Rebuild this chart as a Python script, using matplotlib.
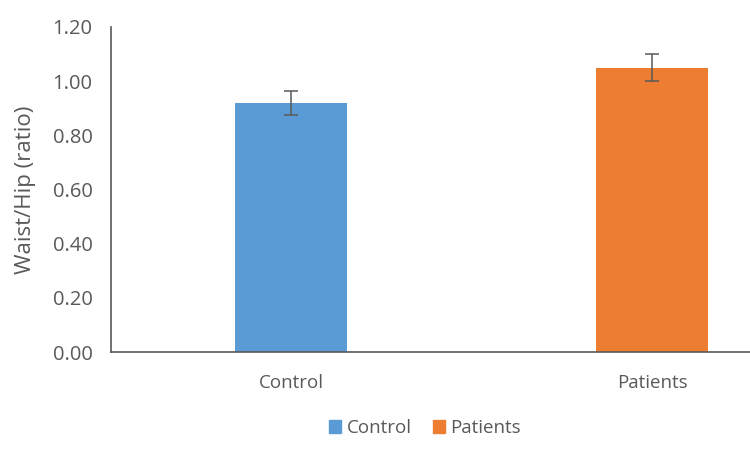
import matplotlib
matplotlib.use("Agg")
import matplotlib.pyplot as plt
from matplotlib.patches import Patch

# Données
groups = ["Control", "Patients"]
ratio = [0.92, 1.05]
ratio_err = [0.045, 0.05]
colors = ["#5B9BD5", "#ED7D31"]
yticks = [0.0, 0.2, 0.4, 0.6, 0.8, 1.0, 1.2]

plt.rcParams['font.family'] = ['Open Sans', 'DejaVu Sans']
grey = "#595959"

fig = plt.figure(figsize=(7.5, 4.5), dpi=100)
# l'axe dépasse à droite (graphique rogné)
ax = fig.add_axes([110.5 / 750, 98 / 450, 722 / 750, 325 / 450])

x = range(len(groups))
ax.bar(x, ratio, width=0.31, color=colors, zorder=2)
ax.errorbar(x, ratio, yerr=ratio_err, fmt='none', ecolor=grey,
            elinewidth=1.1, capsize=5, capthick=1.1, zorder=3)

ax.set_xlim(-0.5, 1.5)
ax.set_ylim(0, 1.2)
ax.set_yticks(yticks)
ax.set_yticklabels([f"{v:.2f}" for v in yticks])
ax.set_xticks(list(x))
ax.set_xticklabels(groups)
ax.tick_params(axis='both', length=0, colors=grey)
ax.tick_params(axis='y', pad=13, labelsize=14.5)
ax.tick_params(axis='x', pad=16, labelsize=13.5)

for s in ['top', 'right']:
    ax.spines[s].set_visible(False)
for s in ['left', 'bottom']:
    ax.spines[s].set_color(grey)
    ax.spines[s].set_linewidth(1.2)

ax.set_ylabel("Waist/Hip (ratio)", color=grey, fontsize=16, labelpad=12)

handles = [Patch(color=c, label=g) for g, c in zip(groups, colors)]
fig.legend(handles=handles, loc='center', bbox_to_anchor=(425 / 750, 1 - 428 / 450),
           ncol=2, frameon=False, fontsize=13.5, handlelength=0.65, handleheight=0.65,
           handletextpad=0.3, columnspacing=1.1, labelcolor=grey)

fig.savefig("out.png", dpi=100)
